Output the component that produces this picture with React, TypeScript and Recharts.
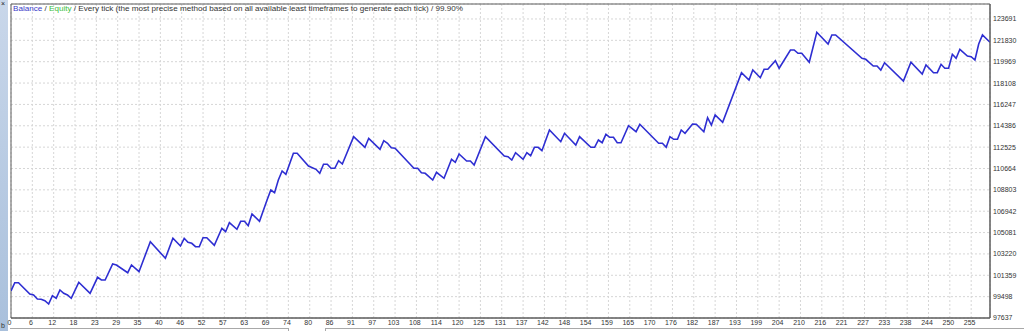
import React from "react";
import {
  LineChart,
  Line,
  XAxis,
  YAxis,
  CartesianGrid,
  ReferenceArea,
} from "recharts";

// trade number of each turning point of the balance curve
const tradeIdx = [
  0, 1, 2, 5, 6, 7, 8, 9, 10, 11, 12, 13, 14, 15, 16, 18, 21, 23, 24, 25,
  27, 28, 31, 32, 34, 37, 41, 43, 45, 46, 47, 48, 49, 50, 51, 52, 54, 56, 57, 58,
  60, 61, 62, 63, 64, 66, 68, 69, 70, 71, 72, 73, 75, 76, 79, 81, 82, 83, 84, 85,
  86, 87, 88, 91, 94, 95, 98, 99, 100, 101, 102, 107, 108, 109, 110, 112, 113, 115, 117, 118,
  119, 121, 122, 123, 126, 131, 132, 133, 134, 136, 137, 138, 139, 140, 141, 143, 146, 147, 150, 151,
  154, 155, 156, 157, 158, 159, 160, 161, 162, 164, 166, 167, 172, 173, 174, 175, 176, 177, 178, 179,
  181, 182, 184, 185, 186, 187, 189, 194, 196, 197, 199, 200, 201, 203, 204, 207, 208, 209, 210, 212,
  214, 217, 218, 219, 226, 227, 229, 230, 231, 232, 237, 239, 242, 243, 245, 246, 247, 248, 249, 250,
  251, 252, 254, 255, 256, 257, 258, 260,
];

// balance at those trades
const balance = [
  100000, 100713, 100713, 99728, 99641, 99292, 99266, 99144, 98857, 99580, 99353, 100077, 99789, 99641, 99353, 100748, 99789, 101183, 100948, 100948,
  102342, 102255, 101584, 102255, 101671, 104285, 102839, 104581, 103910, 104581, 104233, 104146, 103849, 103849, 104634, 104634, 103971, 105453, 105156, 105941,
  105365, 106063, 106063, 105679, 106699, 106063, 107918, 108790, 108554, 109661, 110445, 110158, 111987, 111987, 110881, 110593, 110245, 111029, 111029, 110680,
  110680, 111343, 111055, 113434, 112510, 113294, 112336, 113085, 112859, 112475, 112423, 110680, 110680, 110297, 110245, 109661, 110332, 109809, 111465, 111203,
  111926, 111316, 111316, 110968, 113434, 111752, 111691, 111404, 112040, 111465, 112040, 111778, 112510, 112510, 112214, 114017, 112998, 113730, 112710, 113434,
  112510, 112510, 113146, 112911, 113643, 113382, 113382, 112911, 112911, 114392, 113869, 114514, 112859, 112859, 112510, 113434, 113207, 113207, 114017, 113730,
  114540, 114514, 113869, 115089, 114453, 115324, 114688, 119010, 118374, 119245, 118574, 119306, 119306, 120056, 119394, 120988, 120988, 120700, 120700, 119916,
  122530, 121511, 122295, 122295, 120265, 120178, 119594, 119594, 119245, 119881, 118287, 119916, 118897, 119681, 119010, 119010, 119742, 119394, 119394, 120614,
  120265, 121049, 120465, 120404, 120117, 121511, 122295, 121659,
];

const xTickLabels = [
  "0", "6", "12", "18", "23", "29", "35", "40", "46", "52", "57", "63", "69", "74", "80", "86",
  "91", "97", "103", "108", "114", "120", "125", "131", "137", "142", "148", "154", "159", "165",
  "170", "176", "182", "187", "193", "199", "204", "210", "216", "221", "227", "233", "238", "244",
  "250", "255",
];

const yTicks = [
  97637, 99498, 101359, 103220, 105081, 106942, 108803, 110664, 112525, 114386,
  116247, 118108, 119969, 121830, 123691,
];

const X_MAX = 260;
const Y_MIN = 97637;
const Y_MAX = 124996;

const data = tradeIdx.map((t, i) => ({ trade: t, balance: balance[i] }));
// grid step used by the tester: 255 trades over 45 divisions
const xTickPos = xTickLabels.map((_, i) => (i * 17) / 3);

const tickStyle = { fontSize: 7, fill: "#333", fontFamily: "Liberation Sans, Arial, sans-serif" };

const App: React.FC = () => {
  return (
    <div style={{ position: "absolute", left: 0, top: 0, width: 1024, height: 331, background: "#fff", overflow: "hidden" }}>
      {/* barra lateral de la ventana */}
      <div
        style={{
          position: "absolute",
          left: 0,
          top: 0,
          width: 8,
          height: 331,
          background: "linear-gradient(#c9d7ea, #a9c0dc)",
        }}
      />
      <div style={{ position: "absolute", left: 1, top: 0, fontSize: 7, lineHeight: "7px", color: "#222", fontFamily: "Liberation Sans, sans-serif" }}>×</div>
      <div style={{ position: "absolute", left: 1, top: 322, fontSize: 7, lineHeight: "8px", color: "#333", fontFamily: "Liberation Sans, sans-serif" }}>b</div>

      <LineChart
        width={1024}
        height={331}
        data={data}
        margin={{ top: 4, right: 0, left: 11, bottom: 0 }}
        style={{ position: "absolute", left: 0, top: 0 }}
      >
        <CartesianGrid stroke="#d6d6d6" strokeDasharray="2 2" />
        <XAxis
          dataKey="trade"
          type="number"
          domain={[0, X_MAX]}
          ticks={xTickPos}
          tickFormatter={(_v: number, i: number) => xTickLabels[i]}
          interval={0}
          height={13}
          tickLine={false}
          tickSize={0}
          tickMargin={2}
          axisLine={{ stroke: "#5c5c5c" }}
          tick={{ ...tickStyle, dx: -1.5 }}
          allowDataOverflow
        />
        <YAxis
          orientation="right"
          type="number"
          domain={[Y_MIN, Y_MAX]}
          ticks={yTicks}
          interval={0}
          width={34}
          tickLine={false}
          tickSize={0}
          tickMargin={3}
          axisLine={{ stroke: "#5c5c5c" }}
          tick={tickStyle}
          allowDataOverflow
        />
        <ReferenceArea
          x1={0}
          x2={X_MAX}
          y1={Y_MIN}
          y2={Y_MAX}
          fill="none"
          stroke="#5c5c5c"
          ifOverflow="visible"
        />
        <Line
          type="linear"
          dataKey="balance"
          stroke="#2e2ed2"
          strokeWidth={1.6}
          dot={false}
          isAnimationActive={false}
        />
      </LineChart>

      {/* leyenda arriba */}
      <div
        style={{
          position: "absolute",
          left: 13,
          top: 4,
          fontSize: 8.1,
          lineHeight: "10px",
          color: "#333",
          fontFamily: "Liberation Sans, Arial, sans-serif",
          whiteSpace: "nowrap",
        }}
      >
        <span style={{ color: "#3a3ac8" }}>Balance</span> /{" "}
        <span style={{ color: "#3cc03c" }}>Equity</span> / Every tick (the most precise method based on all
        available least timeframes to generate each tick) / 99.90%
      </div>

      {/* pestañas abajo */}
      <div style={{ position: "absolute", left: 10, top: 328, width: 278, height: 4, borderTop: "1px solid #a8a8a8", borderRight: "1px solid #a8a8a8" }} />
      <div style={{ position: "absolute", left: 325, top: 328, width: 699, height: 4, borderTop: "1px solid #a8a8a8", borderLeft: "1px solid #a8a8a8" }} />
    </div>
  );
};

export default App;
